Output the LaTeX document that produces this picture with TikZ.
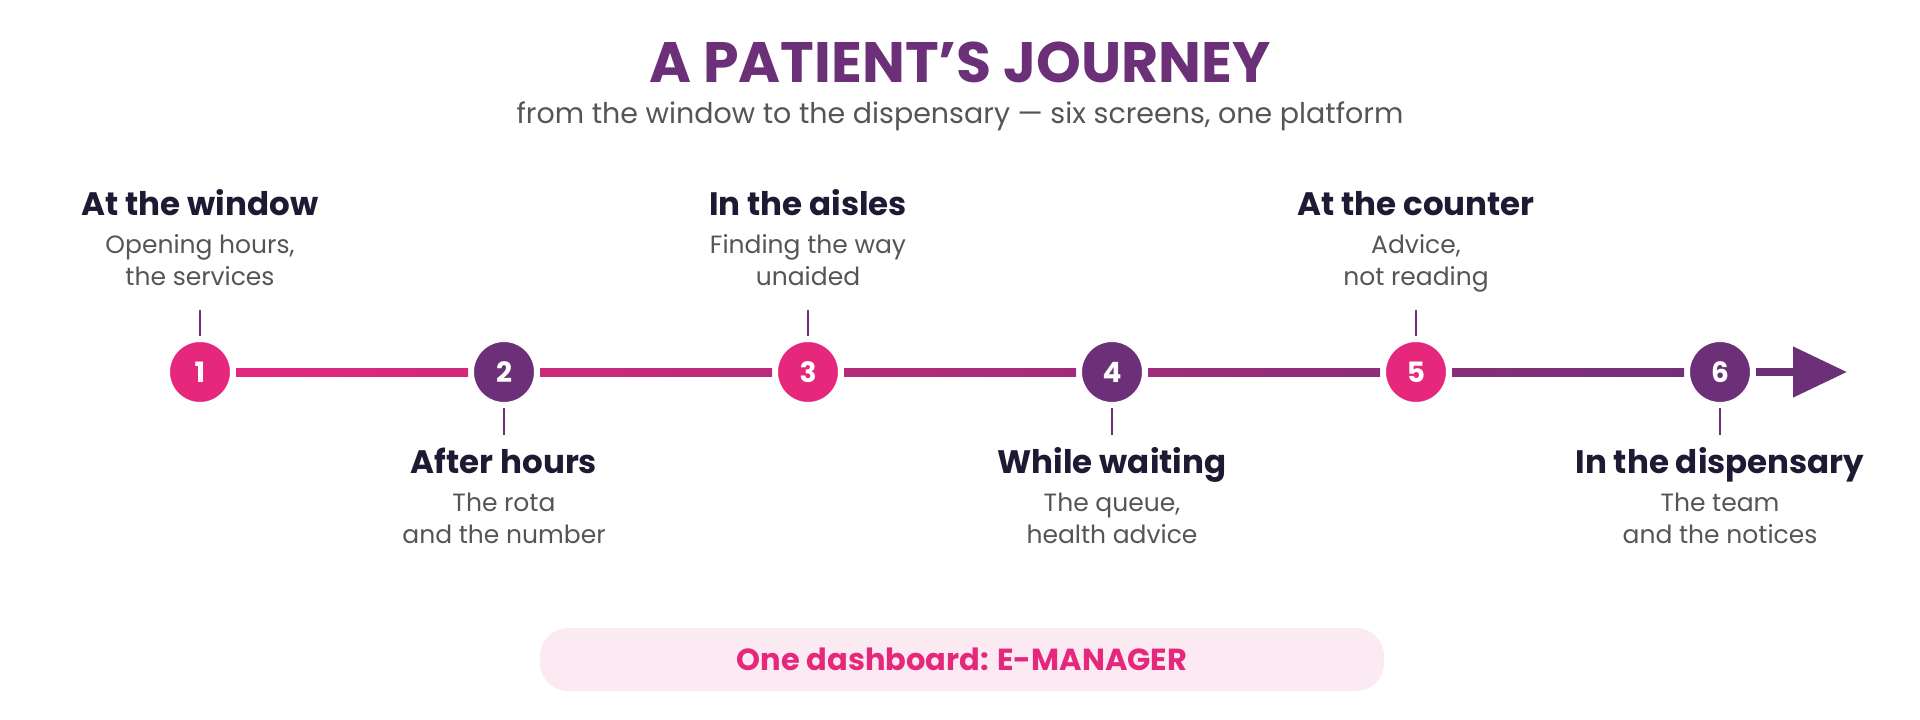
\documentclass[tikz,border=0pt]{standalone}
\usepackage{fontspec}
\setmainfont{Poppins}
\usetikzlibrary{arrows.meta}
\definecolor{jpink}{HTML}{E5287C}
\definecolor{jpurple}{HTML}{6C3078}
\definecolor{jdark}{HTML}{1C1B33}
\definecolor{jgray}{HTML}{555555}
\definecolor{jpill}{HTML}{FCEAF3}
\begin{document}
\begin{tikzpicture}[x=1pt, y=-1pt,
  dot/.style={circle, minimum size=66pt, inner sep=0pt, outer sep=3pt, draw=white, line width=6pt, text=white, font=\fontsize{28}{28}\selectfont\bfseries},
  head/.style={anchor=base, text=jdark, font=\fontsize{32.5}{32.5}\selectfont\bfseries},
  sub/.style={anchor=base, align=center, text=jgray, font=\fontsize{25}{32}\selectfont},
  tick/.style={jpurple, line width=2.5pt}]
\useasboundingbox (0,0) rectangle (1920,720);
\node[anchor=base, text=jpurple, font=\fontsize{57}{57}\selectfont\bfseries] (title) at (960,82) {A PATIENT’S JOURNEY};
\node[anchor=base, text=jgray, font=\fontsize{28.5}{28.5}\selectfont] (subtitle) at (960,123) {from the window to the dispensary — six screens, one platform};
\foreach \i/\c in {1/jpink,2/jpurple,3/jpink,4/jpurple,5/jpink,6/jpurple}
  \node[dot, fill=\c] (c\i) at ({200+304*(\i-1)},372) {\i};
\coordinate (tip) at (1847,372);
\foreach \a/\b/\l/\r in {1/2/98/83,2/3/79/64,3/4/60/45,4/5/41/26,5/6/22/7}
  \shade[left color=jpink!\l!jpurple, right color=jpink!\r!jpurple] ([yshift=4pt]c\a.east) rectangle ([yshift=-4pt]c\b.west);
\draw[jpurple, line width=8pt, -{Triangle[length=54pt, width=49pt]}] (c6.east) -- (tip);
\foreach \i in {1,3,5} \draw[tick] (c\i.north) -- ++(0,-26);
\foreach \i in {2,4,6} \draw[tick] (c\i.south) -- ++(0,27);
\node[head] (h1) at (200,215) {At the window};
\node[sub] (s1) at (200,285) {Opening hours,\\the services};
\node[head] (h3) at (808,215) {In the aisles};
\node[sub] (s3) at (808,285) {Finding the way\\unaided};
\node[head] (h5) at (1416,215) {At the counter};
\node[sub] (s5) at (1416,285) {Advice,\\not reading};
\node[head] (h2) at (504,473) {After hours};
\node[sub] (s2) at (504,543) {The rota\\and the number};
\node[head] (h4) at (1112,473) {While waiting};
\node[sub] (s4) at (1112,543) {The queue,\\health advice};
\node[head] (h6) at (1720,473) {In the dispensary};
\node[sub] (s6) at (1720,543) {The team\\and the notices};
\node[fill=jpill, rounded corners=28pt, minimum width=844pt, minimum height=63pt, text=jpink, font=\fontsize{30.5}{30.5}\selectfont\bfseries] (dash) at (962,659.5) {One dashboard: E-MANAGER};
\end{tikzpicture}
\end{document}
